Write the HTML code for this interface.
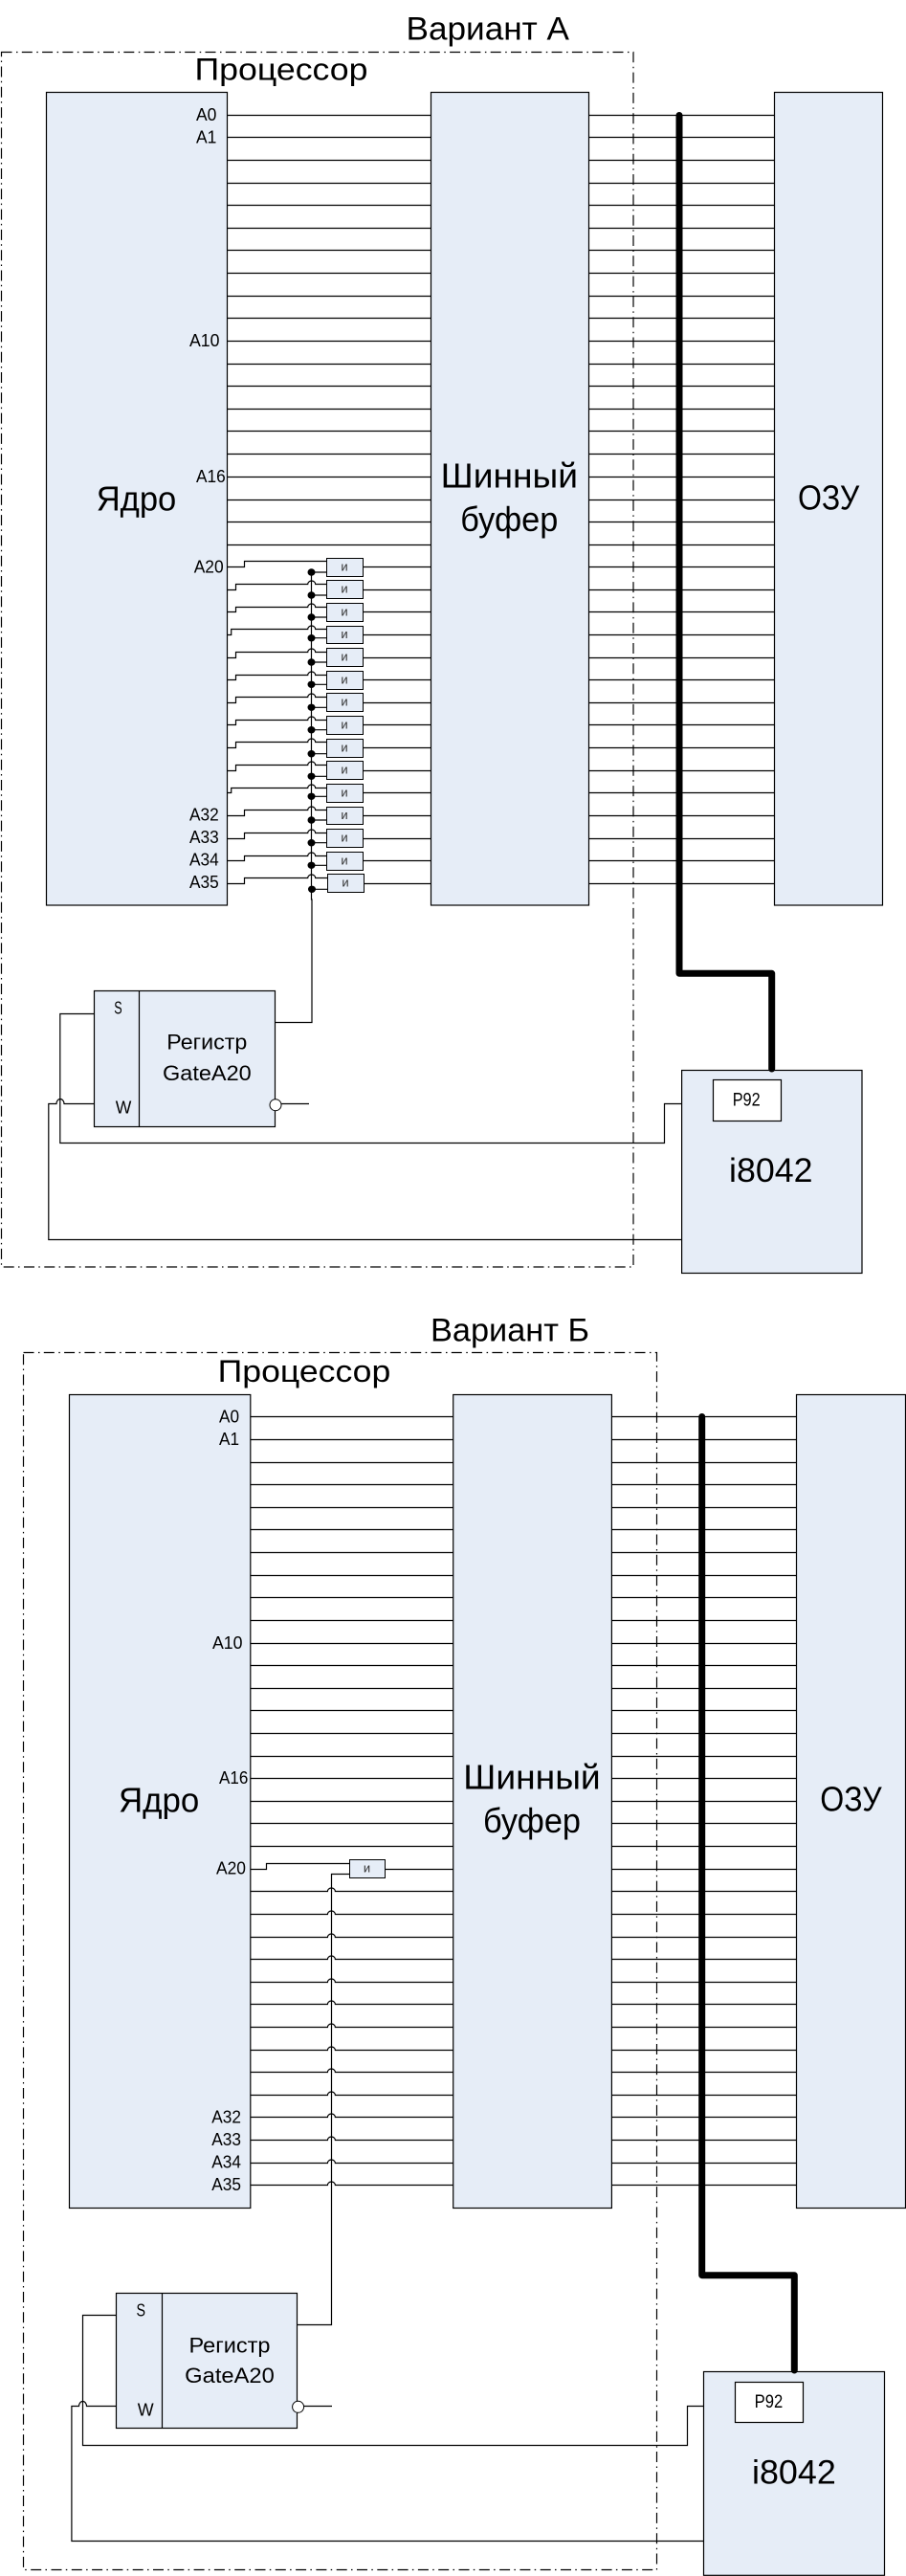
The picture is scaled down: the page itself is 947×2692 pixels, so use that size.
<!DOCTYPE html>
<html lang="ru">
<head>
<meta charset="utf-8">
<title>Варианты A и Б</title>
<style>
html,body{margin:0;padding:0;background:#fff;}
svg{display:block;}
text{font-family:"Liberation Sans","Noto Sans CJK SC",sans-serif;fill:#000;}
.b{fill:#e6edf7;stroke:#000;stroke-width:1.2;}
.w{fill:none;stroke:#000;stroke-width:1.2;}
.g{fill:#e6edf7;stroke:#000;stroke-width:1;}
.d{fill:none;stroke:#000;stroke-width:1.2;stroke-dasharray:11 4.5 1.5 4.3;}
.t{fill:none;stroke:#000;stroke-width:7;stroke-linejoin:round;stroke-linecap:round;}
.i{font-size:13px;fill:#333;text-anchor:middle;}
.dot{fill:#000;}
.l{font-size:18.5px;}
</style>
</head>
<body>
<svg xmlns="http://www.w3.org/2000/svg" width="947" height="2692" viewBox="0 0 947 2692">
<rect width="947" height="2692" fill="#fff"/>

<!-- ВАРИАНТ A -->
<rect class="d" x="1.5" y="54.5" width="660.5" height="1269.5"/>
<text x="424.5" y="41.7" font-size="34" textLength="170.5" lengthAdjust="spacingAndGlyphs">Вариант А</text>
<text x="203.5" y="83.3" font-size="32.5" textLength="181" lengthAdjust="spacingAndGlyphs">Процессор</text>

<rect class="b" x="48.5" y="96.5" width="189" height="849.5"/>
<rect class="b" x="450.5" y="96.5" width="165" height="849.5"/>
<rect class="b" x="809.5" y="96.5" width="113" height="849.5"/>

<path class="w" d="M237.5 120.5H450.5M237.5 143.5H450.5M237.5 167.5H450.5M237.5 191.5H450.5M237.5 214.5H450.5M237.5 238.5H450.5M237.5 261.5H450.5M237.5 285.5H450.5M237.5 309.5H450.5M237.5 332.5H450.5M237.5 356.5H450.5M237.5 380.5H450.5M237.5 403.5H450.5M237.5 427.5H450.5M237.5 450.5H450.5M237.5 474.5H450.5M237.5 498.5H450.5M237.5 522.5H450.5M237.5 545.5H450.5M237.5 569.5H450.5"/>
<path class="w" d="M615.5 120.5H809.5M615.5 143.5H809.5M615.5 167.5H809.5M615.5 191.5H809.5M615.5 214.5H809.5M615.5 238.5H809.5M615.5 261.5H809.5M615.5 285.5H809.5M615.5 309.5H809.5M615.5 332.5H809.5M615.5 356.5H809.5M615.5 380.5H809.5M615.5 403.5H809.5M615.5 427.5H809.5M615.5 450.5H809.5M615.5 474.5H809.5M615.5 498.5H809.5M615.5 522.5H809.5M615.5 545.5H809.5M615.5 569.5H809.5M615.5 592.5H809.5M615.5 616.5H809.5M615.5 639.5H809.5M615.5 663.5H809.5M615.5 687.5H809.5M615.5 710.5H809.5M615.5 734.5H809.5M615.5 757.5H809.5M615.5 781.5H809.5M615.5 805.5H809.5M615.5 828.5H809.5M615.5 852.5H809.5M615.5 876.5H809.5M615.5 899.5H809.5M615.5 923.5H809.5"/>
<path class="w" d="M379 592.5H450.5M379 616.5H450.5M379 639.5H450.5M379 663.5H450.5M379 687.5H450.5M379 710.5H450.5M379 734.5H450.5M379 757.5H450.5M379 781.5H450.5M379 805.5H450.5M379 828.5H450.5M379 852.5H450.5M379 876.5H450.5M379 899.5H450.5M380 923.5H450.5"/>

<!-- входы вентилей A -->
<path class="w" d="M237.5 592.5H255.5V586.5H341.5"/>
<path class="w" d="M237.5 616.5H246.5V610.5H321.7A4 3.5 0 0 1 329.7 610.5H341.5M237.5 639.5H246.5V634.5H321.7A4 3.5 0 0 1 329.7 634.5H341.5M237.5 663.5H241.7V657.5H321.7A4 3.5 0 0 1 329.7 657.5H341.5M237.5 687.5H246.5V681.5H321.7A4 3.5 0 0 1 329.7 681.5H341.5M237.5 710.5H246.5V705.5H321.7A4 3.5 0 0 1 329.7 705.5H341.5M237.5 734.5H246.5V728.5H321.7A4 3.5 0 0 1 329.7 728.5H341.5M237.5 757.5H246.5V752.5H321.7A4 3.5 0 0 1 329.7 752.5H341.5M237.5 781.5H246.5V775.5H321.7A4 3.5 0 0 1 329.7 775.5H341.5M237.5 805.5H246.5V799.5H321.7A4 3.5 0 0 1 329.7 799.5H341.5M237.5 828.5H241.7V823.5H321.7A4 3.5 0 0 1 329.7 823.5H341.5M237.5 852.5H255.5V846.5H321.7A4 3.5 0 0 1 329.7 846.5H341.5M237.5 876.5H255.5V870.5H321.7A4 3.5 0 0 1 329.7 870.5H341.5M237.5 899.5H255.5V894.5H321.7A4 3.5 0 0 1 329.7 894.5H341.5M237.5 923.5H255.5V917.5H321.7A4 3.5 0 0 1 329.7 917.5H342"/>
<path class="w" d="M325.5 598V940H326V1068.5H287.5"/>
<path class="w" d="M325.5 598H341.5M325.5 622H341.5M325.5 645H341.5M325.5 666.7H341.5M325.5 692H341.5M325.5 715.3H341.5M325.5 739.3H341.5M325.5 762.7H341.5M325.5 787.7H341.5M325.5 811.3H341.5M325.5 832.3H341.5M325.5 857H341.5M325.5 880.7H341.5M325.5 904.3H341.5M325.5 929.3H342"/>

<g class="dot">
<ellipse cx="325.5" cy="598" rx="4" ry="3.7"/><ellipse cx="325.5" cy="622" rx="4" ry="3.7"/><ellipse cx="325.5" cy="645" rx="4" ry="3.7"/><ellipse cx="325.5" cy="666.7" rx="4" ry="3.7"/><ellipse cx="325.5" cy="692" rx="4" ry="3.7"/><ellipse cx="325.5" cy="715.3" rx="4" ry="3.7"/><ellipse cx="325.5" cy="739.3" rx="4" ry="3.7"/><ellipse cx="325.5" cy="762.7" rx="4" ry="3.7"/><ellipse cx="325.5" cy="787.7" rx="4" ry="3.7"/><ellipse cx="325.5" cy="811.3" rx="4" ry="3.7"/><ellipse cx="325.5" cy="832.3" rx="4" ry="3.7"/><ellipse cx="325.5" cy="857" rx="4" ry="3.7"/><ellipse cx="325.5" cy="880.7" rx="4" ry="3.7"/><ellipse cx="325.5" cy="904.3" rx="4" ry="3.7"/><ellipse cx="326" cy="929.3" rx="4" ry="3.7"/>
</g>

<rect class="g" x="341.5" y="583.5" width="38" height="19"/><text class="i" x="360" y="596.5">и</text>
<rect class="g" x="341.5" y="606.5" width="38" height="19"/><text class="i" x="360" y="619.5">и</text>
<rect class="g" x="341.5" y="630.5" width="38" height="19"/><text class="i" x="360" y="643.5">и</text>
<rect class="g" x="341.5" y="654.5" width="38" height="18"/><text class="i" x="360" y="667">и</text>
<rect class="g" x="341.5" y="677.5" width="38" height="19"/><text class="i" x="360" y="690.5">и</text>
<rect class="g" x="341.5" y="701.5" width="38" height="19"/><text class="i" x="360" y="714.5">и</text>
<rect class="g" x="341.5" y="724.5" width="38" height="19"/><text class="i" x="360" y="737.5">и</text>
<rect class="g" x="341.5" y="748.5" width="38" height="19"/><text class="i" x="360" y="761.5">и</text>
<rect class="g" x="341.5" y="772.5" width="38" height="19"/><text class="i" x="360" y="785.5">и</text>
<rect class="g" x="341.5" y="795.5" width="38" height="19"/><text class="i" x="360" y="808.5">и</text>
<rect class="g" x="341.5" y="819.5" width="38" height="19"/><text class="i" x="360" y="832.5">и</text>
<rect class="g" x="341.5" y="843.5" width="38" height="18"/><text class="i" x="360" y="856">и</text>
<rect class="g" x="341.5" y="866.5" width="38" height="19"/><text class="i" x="360" y="879.5">и</text>
<rect class="g" x="341.5" y="890.5" width="38" height="19"/><text class="i" x="360" y="903.5">и</text>
<rect class="g" x="342.5" y="913.5" width="38" height="19"/><text class="i" x="361" y="926.5">и</text>

<text class="l" x="205" y="126" textLength="21.4" lengthAdjust="spacingAndGlyphs">A0</text>
<text class="l" x="205" y="149.3" textLength="21.4" lengthAdjust="spacingAndGlyphs">A1</text>
<text class="l" x="198" y="362" textLength="31.5" lengthAdjust="spacingAndGlyphs">A10</text>
<text class="l" x="205" y="504" textLength="30.7" lengthAdjust="spacingAndGlyphs">A16</text>
<text class="l" x="202.7" y="598.3" textLength="31" lengthAdjust="spacingAndGlyphs">A20</text>
<text class="l" x="198" y="857.7" textLength="30.7" lengthAdjust="spacingAndGlyphs">A32</text>
<text class="l" x="198" y="881" textLength="30.7" lengthAdjust="spacingAndGlyphs">A33</text>
<text class="l" x="198" y="904.7" textLength="30.7" lengthAdjust="spacingAndGlyphs">A34</text>
<text class="l" x="198" y="928" textLength="30.7" lengthAdjust="spacingAndGlyphs">A35</text>

<text x="100.7" y="533.3" font-size="36" textLength="83.6" lengthAdjust="spacingAndGlyphs">Ядро</text>
<text x="460.7" y="509.3" font-size="36" textLength="143.3" lengthAdjust="spacingAndGlyphs">Шинный</text>
<text x="481.3" y="555" font-size="36" textLength="102" lengthAdjust="spacingAndGlyphs">буфер</text>
<text x="834" y="532.7" font-size="36" textLength="64.3" lengthAdjust="spacingAndGlyphs">ОЗУ</text>

<!-- регистр A -->
<path class="w" d="M98.5 1059.5H62.8V1194.5H694.5V1153.5H712.6"/>
<path class="w" d="M98.5 1153.5H67A4 5 0 0 0 59 1153.5H50.8V1295.5H712.6"/>
<path class="w" d="M294 1153.5H323"/>
<rect class="b" x="98.5" y="1035.5" width="189" height="142"/>
<path class="w" d="M145.5 1035.5V1177.5"/>
<circle cx="288" cy="1154.7" r="6" fill="#fff" stroke="#000" stroke-width="1"/>
<text class="l" x="119.3" y="1059.3" textLength="8.4" lengthAdjust="spacingAndGlyphs">S</text>
<text class="l" x="120.7" y="1163.3" textLength="16.6" lengthAdjust="spacingAndGlyphs">W</text>
<text x="174.3" y="1096.7" font-size="22" textLength="84" lengthAdjust="spacingAndGlyphs">Регистр</text>
<text x="170" y="1129" font-size="22" textLength="92.7" lengthAdjust="spacingAndGlyphs">GateA20</text>

<rect class="b" x="712.6" y="1118.5" width="188.4" height="212"/>
<rect x="745.5" y="1128.5" width="71" height="43" fill="#fff" stroke="#000" stroke-width="1.2"/>
<text x="765.7" y="1155.7" font-size="19" textLength="29" lengthAdjust="spacingAndGlyphs">P92</text>
<text x="762" y="1235" font-size="35.5" textLength="87.6" lengthAdjust="spacingAndGlyphs">i8042</text>

<path class="t" d="M710 120.5V1017.3H806.7V1117"/>

<!-- ВАРИАНТ Б -->
<rect class="d" x="24.5" y="1413.5" width="662" height="1272"/>
<text x="450" y="1401.7" font-size="34" textLength="166" lengthAdjust="spacingAndGlyphs">Вариант Б</text>
<text x="227.7" y="1444" font-size="32.5" textLength="180.6" lengthAdjust="spacingAndGlyphs">Процессор</text>

<rect class="b" x="72.5" y="1457.5" width="189.3" height="850"/>
<rect class="b" x="473.7" y="1457.5" width="165.7" height="850"/>
<rect class="b" x="832.5" y="1457.5" width="114" height="850"/>

<path class="w" d="M261.8 1480.5H473.7M261.8 1504.5H473.7M261.8 1528.5H473.7M261.8 1551.5H473.7M261.8 1575.5H473.7M261.8 1598.5H473.7M261.8 1622.5H473.7M261.8 1646.5H473.7M261.8 1669.5H473.7M261.8 1693.5H473.7M261.8 1717.5H473.7M261.8 1740.5H473.7M261.8 1764.5H473.7M261.8 1787.5H473.7M261.8 1811.5H473.7M261.8 1835.5H473.7M261.8 1858.5H473.7M261.8 1882.5H473.7M261.8 1905.5H473.7M261.8 1929.5H473.7"/>
<path class="w" d="M639.4 1480.5H832.5M639.4 1504.5H832.5M639.4 1528.5H832.5M639.4 1551.5H832.5M639.4 1575.5H832.5M639.4 1598.5H832.5M639.4 1622.5H832.5M639.4 1646.5H832.5M639.4 1669.5H832.5M639.4 1693.5H832.5M639.4 1717.5H832.5M639.4 1740.5H832.5M639.4 1764.5H832.5M639.4 1787.5H832.5M639.4 1811.5H832.5M639.4 1835.5H832.5M639.4 1858.5H832.5M639.4 1882.5H832.5M639.4 1905.5H832.5M639.4 1929.5H832.5M639.4 1953.5H832.5M639.4 1976.5H832.5M639.4 2000.5H832.5M639.4 2024.5H832.5M639.4 2047.5H832.5M639.4 2071.5H832.5M639.4 2094.5H832.5M639.4 2118.5H832.5M639.4 2142.5H832.5M639.4 2165.5H832.5M639.4 2189.5H832.5M639.4 2212.5H832.5M639.4 2236.5H832.5M639.4 2260.5H832.5M639.4 2283.5H832.5"/>
<path class="w" d="M261.8 1953.5H278.5V1947.5H365.5M402.5 1953.5H473.7"/>
<path class="w" d="M365.5 1958.5H346.5V2429.5H310.4"/>
<path class="w" d="M261.8 1976.5H342.4A4 3.5 0 0 1 350.4 1976.5H473.7M261.8 2000.5H342.4A4 3.5 0 0 1 350.4 2000.5H473.7M261.8 2024.5H342.4A4 3.5 0 0 1 350.4 2024.5H473.7M261.8 2047.5H342.4A4 3.5 0 0 1 350.4 2047.5H473.7M261.8 2071.5H342.4A4 3.5 0 0 1 350.4 2071.5H473.7M261.8 2094.5H342.4A4 3.5 0 0 1 350.4 2094.5H473.7M261.8 2118.5H342.4A4 3.5 0 0 1 350.4 2118.5H473.7M261.8 2142.5H342.4A4 3.5 0 0 1 350.4 2142.5H473.7M261.8 2165.5H342.4A4 3.5 0 0 1 350.4 2165.5H473.7M261.8 2189.5H342.4A4 3.5 0 0 1 350.4 2189.5H473.7M261.8 2212.5H342.4A4 3.5 0 0 1 350.4 2212.5H473.7M261.8 2236.5H342.4A4 3.5 0 0 1 350.4 2236.5H473.7M261.8 2260.5H342.4A4 3.5 0 0 1 350.4 2260.5H473.7M261.8 2283.5H342.4A4 3.5 0 0 1 350.4 2283.5H473.7"/>

<rect class="g" x="365.5" y="1943.5" width="37" height="19"/><text class="i" x="383.5" y="1956.5">и</text>

<text class="l" x="229" y="1486.7" textLength="21" lengthAdjust="spacingAndGlyphs">A0</text>
<text class="l" x="229" y="1510" textLength="21" lengthAdjust="spacingAndGlyphs">A1</text>
<text class="l" x="222" y="1723" textLength="31.5" lengthAdjust="spacingAndGlyphs">A10</text>
<text class="l" x="229" y="1864" textLength="30.3" lengthAdjust="spacingAndGlyphs">A16</text>
<text class="l" x="226" y="1958.7" textLength="31" lengthAdjust="spacingAndGlyphs">A20</text>
<text class="l" x="221.3" y="2218.3" textLength="30.7" lengthAdjust="spacingAndGlyphs">A32</text>
<text class="l" x="221.3" y="2242" textLength="30.7" lengthAdjust="spacingAndGlyphs">A33</text>
<text class="l" x="221.3" y="2265.7" textLength="30.7" lengthAdjust="spacingAndGlyphs">A34</text>
<text class="l" x="221.3" y="2289" textLength="30.7" lengthAdjust="spacingAndGlyphs">A35</text>

<text x="124" y="1893.3" font-size="36" textLength="84.3" lengthAdjust="spacingAndGlyphs">Ядро</text>
<text x="484.3" y="1869.3" font-size="36" textLength="143.4" lengthAdjust="spacingAndGlyphs">Шинный</text>
<text x="505" y="1915" font-size="36" textLength="102" lengthAdjust="spacingAndGlyphs">буфер</text>
<text x="857.3" y="1892.7" font-size="36" textLength="64.4" lengthAdjust="spacingAndGlyphs">ОЗУ</text>

<!-- регистр Б -->
<path class="w" d="M121.5 2419.5H86.5V2555.5H718.5V2514.5H735.5"/>
<path class="w" d="M121.5 2514.5H90.5A4 5 0 0 0 82.5 2514.5H74.9V2655.5H735.5"/>
<path class="w" d="M317 2514.5H347"/>
<rect class="b" x="121.5" y="2396.5" width="189" height="141"/>
<path class="w" d="M169.5 2396.5V2537.5"/>
<circle cx="311.6" cy="2515.3" r="6" fill="#fff" stroke="#000" stroke-width="1"/>
<text class="l" x="142.5" y="2420.7" textLength="9.5" lengthAdjust="spacingAndGlyphs">S</text>
<text class="l" x="143.7" y="2524.3" textLength="16.9" lengthAdjust="spacingAndGlyphs">W</text>
<text x="197.5" y="2458.3" font-size="22" textLength="85" lengthAdjust="spacingAndGlyphs">Регистр</text>
<text x="193.2" y="2490" font-size="22" textLength="93.6" lengthAdjust="spacingAndGlyphs">GateA20</text>

<rect class="b" x="735.5" y="2478.5" width="189" height="212.8"/>
<rect x="768.5" y="2489.5" width="71" height="42" fill="#fff" stroke="#000" stroke-width="1.2"/>
<text x="788.6" y="2516" font-size="19" textLength="29.6" lengthAdjust="spacingAndGlyphs">P92</text>
<text x="786" y="2595.7" font-size="35.5" textLength="87.8" lengthAdjust="spacingAndGlyphs">i8042</text>

<path class="t" d="M733.7 1480.5V2377.7H830.3V2477"/>
</svg>
</body>
</html>
